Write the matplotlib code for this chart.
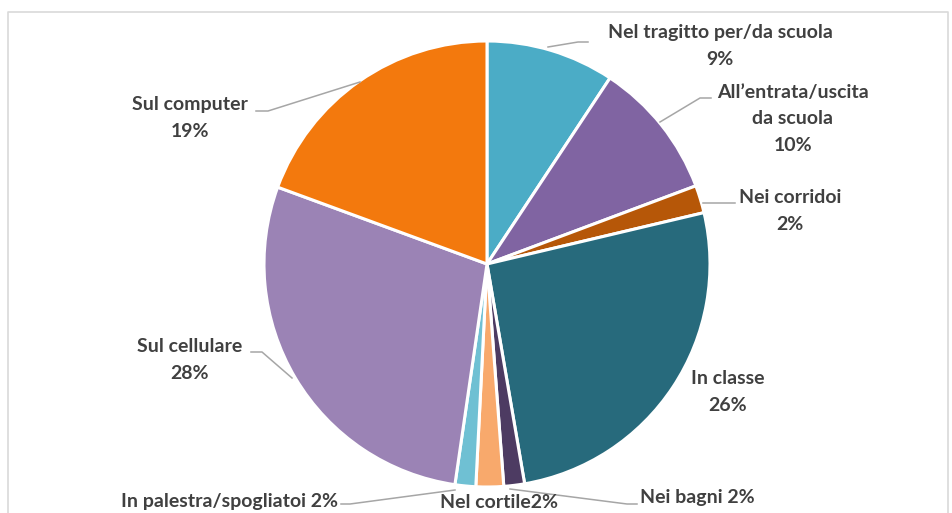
import matplotlib.pyplot as plt
import numpy as np

# slices clockwise from 12 o'clock
luoghi = ["Nel tragitto per/da scuola", "All\u2019entrata/uscita\nda scuola", "Nei corridoi",
          "In classe", "Nei bagni", "Nel cortile", "In palestra/spogliatoi",
          "Sul cellulare", "Sul computer"]
valori = [9.3, 10.0, 2.0, 26.0, 1.5, 2.0, 1.5, 28.3, 19.4]
percentuali = ["9%", "10%", "2%", "26%", "2%", "2%", "2%", "28%", "19%"]
colori = ["#4BACC6", "#8064A2", "#B65708", "#276A7C", "#4D3B62",
          "#F8A96C", "#6FC0D3", "#9B83B5", "#F3790D"]

fig = plt.figure(figsize=(9.53, 5.13), dpi=100)
ax = fig.add_axes([0, 0, 1, 1])

# chart area border
ax.plot([8, 8, 948, 948], [520, 12, 12, 520], color="#D9D9D9", lw=1.2)

cx, cy, r = 487, 264, 223
# y axis is inverted, so counterclock=True looks clockwise on screen
wedges, _ = ax.pie(valori, colors=colori, startangle=-90, counterclock=True,
                   center=(cx, cy), radius=r, frame=True,
                   wedgeprops=dict(edgecolor="white", linewidth=2.2))
ax.set_xlim(0, 953)
ax.set_ylim(513, 0)
ax.set_aspect("equal")
ax.axis("off")

font = dict(family=["Lato", "DejaVu Sans"], fontweight="bold", fontsize=14, color="#404040")

# label text position and leader (start on wedge, elbow, end)
etichette = [
    ((720, 46), [(548, 47), (578, 42), (588, 42)]),
    ((793, 119), [(660, 122), (700, 98), (711, 98)]),
    ((790, 211), [(703, 203), (735, 203)]),
    ((728, 392), None),
    ((697, 497), [(510, 489), (627, 504), (637, 504)]),
    ((499, 503), None),
    ((230, 502), [(455, 490), (350, 504), (341, 504)]),
    ((190, 360), [(292, 378), (262, 352), (251, 352)]),
    ((190, 118), [(360, 82), (268, 111), (256, 111)]),
]

for i, (pos, leader) in enumerate(etichette):
    if luoghi[i] in ("Nei bagni", "In palestra/spogliatoi"):
        testo = luoghi[i] + " " + percentuali[i]
    elif luoghi[i] == "Nel cortile":
        testo = luoghi[i] + percentuali[i]
    else:
        testo = luoghi[i] + "\n" + percentuali[i]
    ax.text(pos[0], pos[1], testo, ha="center", va="center", linespacing=1.65, **font)
    if leader:
        xs, ys = zip(*leader)
        ax.plot(xs, ys, color="#A6A6A6", lw=1.1)

fig.savefig("out.png", dpi=100)
